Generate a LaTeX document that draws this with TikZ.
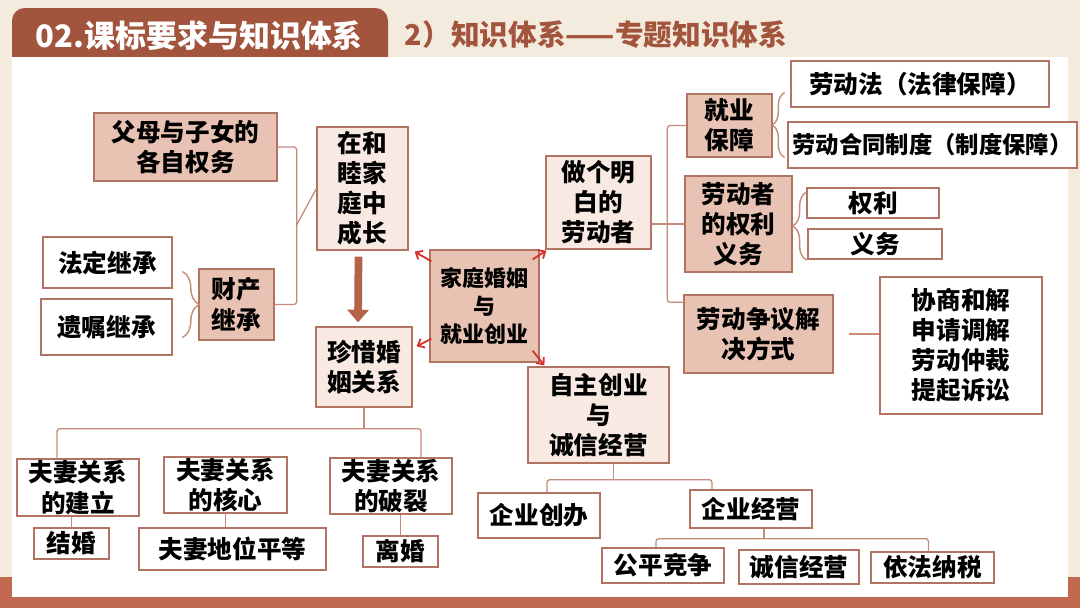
\documentclass[tikz,border=0pt]{standalone}
\usepackage{fontspec}
\setmainfont{Noto Sans CJK SC}
\usetikzlibrary{arrows.meta, calc, decorations.pathreplacing}
\definecolor{pageBg}{HTML}{F4EBDF}
\definecolor{tabFill}{HTML}{A2543C}
\definecolor{barFill}{HTML}{C0694F}
\definecolor{boxLine}{HTML}{B27462}
\definecolor{darkFill}{HTML}{E8C2B2}
\definecolor{lightFill}{HTML}{F8EAE3}
\definecolor{linkLine}{HTML}{C58A78}
\definecolor{hint}{HTML}{D8302A}
\definecolor{bigArrow}{HTML}{B5624A}

\begin{document}
\begin{tikzpicture}[
  x=0.025cm, y=-0.025cm,
  box/.style={draw=boxLine, line width=0.9pt, inner sep=0pt, align=center,
    font=\bfseries\fontsize{17.5}{21.4}\selectfont},
  darkbox/.style={box, fill=darkFill},
  lightbox/.style={box, fill=lightFill},
  plainbox/.style={box, fill=white},
  link/.style={draw=linkLine, line width=0.9pt, rounded corners=2pt},
  curly/.style={draw=linkLine, line width=1pt, decorate,
    decoration={brace, amplitude=#1}},
  hintarrow/.style={-{Straight Barb[length=4pt, width=7pt]}, hint, line width=1.3pt},
  downarrow/.style={-{Triangle[length=9pt, width=15pt]}, bigArrow, line width=5.5pt}
]

% =========================================================
% PAGE AND HEADER
% =========================================================

\useasboundingbox (0,0) rectangle (1080,608);
\fill[pageBg] (0,0) rectangle (1080,608);
\fill[barFill] (0,577) rectangle (1080,608);
\fill[tabFill, rounded corners=9pt] (12,8) rectangle (388,75);
\fill[white] (12,57) rectangle (1068,597);

\node[anchor=west, text=white, font=\bfseries\fontsize{22}{26}\selectfont]
  (title) at (31,36) {02.课标要求与知识体系};
\node[anchor=west, text=tabFill, font=\bfseries\fontsize{20.4}{24}\selectfont]
  (subtitle) at (400,35) {2）知识体系——专题知识体系};

% =========================================================
% CENTRE
% =========================================================

\node[darkbox, minimum width=2.725cm, minimum height=2.80cm,
  font=\bfseries\fontsize{15.6}{20}\selectfont]
  (hub) at (484.5,306) {家庭婚姻\\与\\就业创业};

% =========================================================
% FAMILY SIDE
% =========================================================

\node[darkbox, minimum width=4.575cm, minimum height=1.70cm]
  (fumu) at (185.5,147) {父母与子女的\\各自权务};
\node[lightbox, minimum width=2.275cm, minimum height=3.075cm]
  (zaihe) at (362.5,188.5) {在和\\睦家\\庭中\\成长};
\node[plainbox, minimum width=3.225cm, minimum height=1.275cm]
  (fading) at (107.5,262.5) {法定继承};
\node[plainbox, minimum width=3.275cm, minimum height=1.40cm]
  (yizhu) at (106.5,327) {遗嘱继承};
\node[darkbox, minimum width=1.875cm, minimum height=1.775cm]
  (caichan) at (236.5,304.5) {财产\\继承};
\node[lightbox, minimum width=2.40cm, minimum height=2.00cm]
  (zhenxi) at (364,367) {珍惜婚\\姻关系};

\node[plainbox, minimum width=3.05cm, minimum height=1.425cm]
  (jianli) at (78,487.5) {夫妻关系\\的建立};
\node[plainbox, minimum width=1.875cm, minimum height=0.775cm]
  (jiehun) at (71.5,543.5) {结婚};
\node[plainbox, minimum width=3.075cm, minimum height=1.40cm]
  (hexin) at (225.5,485) {夫妻关系\\的核心};
\node[plainbox, minimum width=4.675cm, minimum height=1.05cm]
  (pingdeng) at (232.5,549) {夫妻地位平等};
\node[plainbox, minimum width=3.05cm, minimum height=1.40cm]
  (polie) at (391,486) {夫妻关系\\的破裂};
\node[plainbox, minimum width=1.875cm, minimum height=0.775cm]
  (lihun) at (400.5,551.5) {离婚};

% =========================================================
% WORK SIDE
% =========================================================

\node[lightbox, minimum width=2.625cm, minimum height=2.325cm]
  (mingbai) at (598.5,202.5) {做个明\\白的\\劳动者};
\node[lightbox, minimum width=3.525cm, minimum height=2.40cm]
  (zizhu) at (598.5,415) {自主创业\\与\\诚信经营};

\node[darkbox, minimum width=2.125cm, minimum height=1.575cm]
  (jiuye) at (729.5,125.5) {就业\\保障};
\node[plainbox, minimum width=6.45cm, minimum height=1.15cm]
  (laodongfa) at (920,84) {劳动法（法律保障）};
\node[plainbox, minimum width=7.225cm, minimum height=1.15cm,
  font=\bfseries\fontsize{16.6}{20}\selectfont]
  (hetong) at (932.5,145) {劳动合同制度（制度保障）};

\node[darkbox, minimum width=2.675cm, minimum height=2.40cm]
  (ldz) at (738.5,224) {劳动者\\的权利\\义务};
\node[plainbox, minimum width=3.30cm, minimum height=0.75cm]
  (quanli) at (873,203) {权利};
\node[plainbox, minimum width=3.35cm, minimum height=0.75cm]
  (yiwu) at (875,244) {义务};

\node[darkbox, minimum width=3.725cm, minimum height=1.95cm]
  (zhengyi) at (758.5,334) {劳动争议解\\决方式};
\node[plainbox, minimum width=4.05cm, minimum height=3.425cm]
  (xieshang) at (961,345.5) {协商和解\\申请调解\\劳动仲裁\\提起诉讼};

\node[plainbox, minimum width=3.05cm, minimum height=1.125cm]
  (chuangban) at (539,515.5) {企业创办};
\node[plainbox, minimum width=3.05cm, minimum height=0.95cm]
  (jingying) at (751,509) {企业经营};
\node[plainbox, minimum width=3.05cm, minimum height=0.875cm]
  (gongping) at (663,565.5) {公平竞争};
\node[plainbox, minimum width=3.00cm, minimum height=0.85cm]
  (chengxin) at (799,567) {诚信经营};
\node[plainbox, minimum width=3.075cm, minimum height=0.775cm]
  (yifa) at (932.5,567.5) {依法纳税};

% =========================================================
% CONNECTORS
% =========================================================

% hub -> four topics
\draw[hintarrow] ($(hub.north west)+(2,12)$) -- ($(zaihe.south east)+(6,1)$);
\draw[hintarrow] ($(hub.south west)+(2,-24)$) -- ($(zhenxi.north east)+(4,20)$);
\draw[hintarrow] ($(hub.north east)+(-7,10)$) -- ($(mingbai.south west)+(1,1)$);
\draw[hintarrow] ($(hub.south east)+(-7,-12)$) -- ($(zizhu.north west)+(17,-1)$);

% growing up in a family
\coordinate (leftJoint) at ($(fumu.east)+(19,78)$);
\draw[link] (fumu.east) -| (leftJoint) |- (caichan.east);
\draw[link] (leftJoint) -- (zaihe.west);
\draw[curly=12pt] ($(caichan.west)+(-16,-33)$) -- ($(caichan.west)+(-16,33)$);
\draw[downarrow] ($(zaihe.south)+(-4,6)$) -- ($(zhenxi.north)+(-6,-4)$);

% marriage
\coordinate (famBar) at ($(zhenxi.south)+(0,21)$);
\draw[link] (zhenxi.south) -- (famBar);
\draw[link] ($(jianli.north)+(-21,0)$) |- (famBar) -| ($(polie.north)+(30,0)$);
\draw[link] (jiehun.north) -- (jiehun.north |- jianli.south);
\draw[link] (hexin.south) -- (hexin.south |- pingdeng.north);
\draw[link] (lihun.north) -- (lihun.north |- polie.south);

% worker
\draw[link] (ldz.west) -- (ldz.west -| mingbai.east);
\draw[link] (jiuye.west) -- ++(-19,0) |- ($(zhengyi.north west)+(0,8)$);
\draw[curly=9pt] ($(jiuye.east)+(12,32)$) -- ($(jiuye.east)+(12,-33)$);
\draw[curly=10pt] ($(ldz.east)+(14,36)$) -- ($(ldz.east)+(14,-32)$);
\draw[link] ($(zhengyi.east)+(15,0)$) -- (zhengyi.east -| xieshang.west);

% business
\coordinate (bizBar) at ($(zizhu.south)+(15,16)$);
\draw[link] (zizhu.south -| bizBar) -- (bizBar);
\draw[link] ($(chuangban.north)+(8,0)$) |- (bizBar) -| ($(jingying.north)+(-39,0)$);
\coordinate (tradeBar) at ($(jingying.south)+(13,10)$);
\draw[link] (jingying.south -| tradeBar) -- (tradeBar);
\draw[link] ($(gongping.north)+(-7,0)$) |- (tradeBar) -| ($(yifa.north)+(-4,0)$);

\end{tikzpicture}
\end{document}
